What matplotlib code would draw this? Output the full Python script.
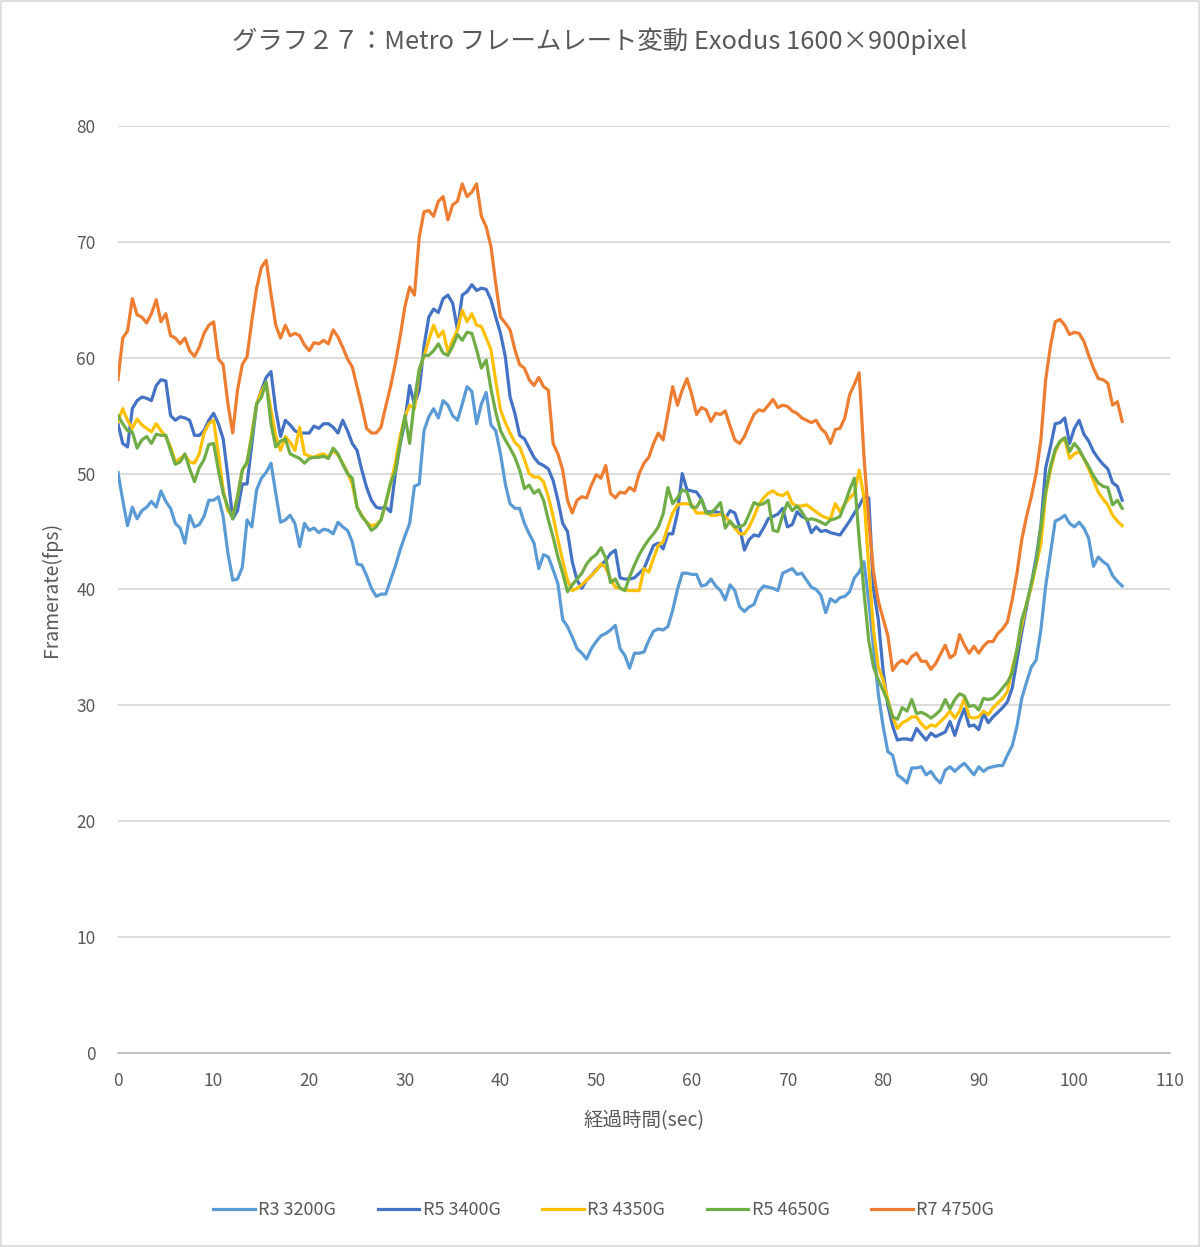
import numpy as np
import matplotlib
matplotlib.use("Agg")
import matplotlib.pyplot as plt
from matplotlib.patches import Rectangle

plt.rcParams['font.family'] = ['Noto Sans CJK JP', 'DejaVu Sans']

# 0.5秒ごとのフレームレート (fps)
r3_3200g = [
    50.1, 47.7, 45.5, 47.1, 46.1, 46.8, 47.1, 47.6, 47.1, 48.5,
    47.6, 47.0, 45.7, 45.3, 44.0, 46.4, 45.4, 45.6, 46.3, 47.7,
    47.7, 48.0, 46.3, 43.1, 40.8, 40.9, 41.9, 46.0, 45.4, 48.6,
    49.6, 50.1, 50.9, 48.3, 45.8, 46.0, 46.4, 45.7, 43.7, 45.7,
    45.1, 45.3, 44.9, 45.2, 45.1, 44.8, 45.8, 45.4, 45.1, 44.1,
    42.2, 42.1, 41.2, 40.1, 39.4, 39.6, 39.6, 40.8, 42.0, 43.4,
    44.6, 45.7, 48.9, 49.1, 53.7, 54.9, 55.6, 54.8, 56.3, 55.9,
    55.0, 54.6, 56.0, 57.5, 57.1, 54.3, 56.0, 57.0, 54.2, 53.7,
    51.7, 49.1, 47.4, 47.0, 47.0, 45.7, 44.8, 44.0, 41.8, 43.0,
    42.8, 41.7, 40.5, 37.4, 36.8, 35.9, 34.9, 34.5, 34.0, 34.9,
    35.5, 36.0, 36.2, 36.5, 36.9, 34.9, 34.3, 33.2, 34.5, 34.5,
    34.6, 35.6, 36.4, 36.6, 36.5, 36.8, 38.2, 40.0, 41.4, 41.4,
    41.3, 41.3, 40.3, 40.4, 40.9, 40.3, 39.9, 39.1, 40.4, 39.9,
    38.5, 38.1, 38.5, 38.7, 39.8, 40.3, 40.2, 40.1, 39.9, 41.4,
    41.6, 41.8, 41.3, 41.4, 40.8, 40.2, 40.0, 39.5, 38.0, 39.2,
    38.9, 39.3, 39.4, 39.8, 41.0, 41.5, 42.4, 39.0, 35.0, 31.0,
    28.2, 26.0, 25.7, 24.0, 23.7, 23.3, 24.6, 24.6, 24.7, 24.0,
    24.3, 23.7, 23.3, 24.4, 24.7, 24.3, 24.7, 25.0, 24.5, 24.0,
    24.7, 24.3, 24.6, 24.7, 24.8, 24.8, 25.7, 26.5, 28.2, 30.6,
    32.0, 33.3, 33.9, 36.5, 40.3, 43.1, 45.9, 46.1, 46.4, 45.7,
    45.4, 45.8, 45.3, 44.4, 42.0, 42.8, 42.4, 42.1, 41.2, 40.7,
    40.3,
]

r5_3400g = [
    54.3, 52.6, 52.3, 55.6, 56.3, 56.6, 56.5, 56.3, 57.6, 58.1,
    58.0, 55.0, 54.6, 54.9, 54.8, 54.6, 53.3, 53.3, 53.7, 54.6,
    55.2, 54.3, 53.0, 49.7, 46.1, 46.8, 49.1, 49.1, 52.6, 56.0,
    57.2, 58.3, 58.8, 55.5, 53.2, 54.6, 54.2, 53.7, 53.5, 53.5,
    53.5, 54.1, 53.9, 54.3, 54.3, 54.0, 53.5, 54.6, 53.7, 52.6,
    52.0, 50.3, 48.8, 47.7, 47.1, 47.0, 47.1, 46.7, 50.0, 52.5,
    54.5, 57.6, 56.0, 57.2, 61.0, 63.5, 64.2, 63.9, 65.1, 65.4,
    64.7, 62.4, 65.4, 65.7, 66.3, 65.8, 66.0, 65.9, 65.0, 63.5,
    62.1, 60.1, 56.6, 55.2, 53.3, 53.0, 52.2, 51.4, 50.9, 50.7,
    50.4, 49.4, 47.7, 45.7, 45.0, 42.4, 40.8, 40.1, 40.8, 41.2,
    41.7, 42.1, 42.5, 43.1, 43.4, 41.0, 40.9, 40.9, 41.0, 41.4,
    41.8, 42.8, 43.8, 44.0, 43.5, 44.8, 44.8, 46.6, 50.0, 48.6,
    48.5, 48.4, 47.8, 46.7, 46.7, 46.7, 46.6, 46.1, 46.8, 46.6,
    45.4, 43.4, 44.3, 44.7, 44.6, 45.3, 46.1, 46.3, 46.5, 47.0,
    45.4, 45.6, 46.7, 46.3, 46.1, 44.9, 45.4, 45.0, 45.1, 44.9,
    44.8, 44.7, 45.3, 45.9, 46.6, 47.2, 48.0, 47.9, 40.0, 37.4,
    33.0, 30.0, 28.2, 27.0, 27.1, 27.1, 27.0, 28.0, 27.5, 27.0,
    27.6, 27.3, 27.5, 27.7, 28.6, 27.4, 28.7, 29.7, 28.2, 28.3,
    27.9, 29.3, 28.5, 29.0, 29.4, 29.8, 30.3, 31.5, 33.9, 36.3,
    38.5, 40.5, 42.7, 45.5, 50.5, 52.3, 54.3, 54.4, 54.8, 52.6,
    53.9, 54.6, 53.4, 52.8, 51.9, 51.3, 50.8, 50.4, 49.2, 48.9,
    47.7,
]

r3_4350g = [
    54.5, 55.6, 54.6, 53.9, 54.7, 54.2, 53.9, 53.6, 54.3, 53.7,
    53.2, 52.3, 51.0, 51.3, 51.6, 51.0, 50.9, 51.7, 53.5, 54.3,
    54.6, 51.7, 48.6, 46.8, 46.3, 48.0, 50.3, 50.9, 53.5, 56.0,
    57.1, 57.8, 55.5, 53.2, 52.0, 53.2, 52.7, 52.0, 54.0, 51.7,
    51.5, 51.4, 51.6, 51.7, 51.4, 52.0, 51.6, 50.9, 50.1, 49.1,
    47.1, 46.4, 45.8, 45.5, 45.6, 46.0, 47.4, 49.1, 50.9, 53.2,
    54.9, 55.9, 55.6, 58.9, 60.1, 61.5, 62.8, 61.8, 62.3, 60.5,
    61.5, 62.4, 64.1, 63.1, 63.8, 62.8, 62.7, 61.7, 60.7, 58.0,
    55.5, 54.4, 53.5, 52.7, 52.3, 51.2, 50.0, 49.7, 49.7, 49.3,
    48.0, 46.3, 44.3, 42.5, 40.8, 39.9, 40.1, 40.4, 40.8, 41.2,
    41.6, 42.2, 41.9, 40.9, 40.2, 40.1, 40.0, 39.9, 39.9, 39.9,
    41.8, 41.5, 42.7, 43.8, 44.1, 45.4, 46.6, 47.3, 47.4, 47.4,
    47.3, 46.6, 46.6, 46.6, 46.4, 46.4, 46.5, 46.3, 45.8, 45.3,
    44.8, 44.8, 45.4, 46.3, 47.3, 47.9, 48.3, 48.5, 48.2, 48.1,
    48.4, 47.4, 47.2, 47.2, 47.3, 47.0, 46.7, 46.4, 46.2, 46.1,
    47.4, 46.7, 47.4, 47.9, 48.3, 50.3, 48.0, 42.0, 36.5, 33.3,
    32.2, 30.5, 29.0, 28.0, 28.5, 28.7, 29.0, 29.0, 28.4, 28.0,
    28.3, 28.2, 28.6, 29.0, 29.5, 28.9, 29.5, 30.6, 29.0, 28.9,
    29.0, 29.5, 29.2, 29.8, 30.2, 30.6, 31.2, 33.2, 34.8, 36.9,
    38.8, 40.2, 42.1, 43.9, 48.2, 50.3, 51.9, 52.7, 53.0, 51.3,
    51.7, 51.9, 51.3, 50.4, 49.4, 48.4, 47.8, 47.3, 46.4, 45.9,
    45.5,
]

r5_4650g = [
    55.0, 54.3, 53.7, 53.6, 52.2, 52.9, 53.2, 52.6, 53.4, 53.3,
    53.3, 52.0, 50.8, 51.0, 51.7, 50.4, 49.3, 50.5, 51.2, 52.5,
    52.6, 50.3, 48.3, 47.1, 46.1, 48.0, 50.3, 51.0, 53.2, 56.0,
    56.6, 57.9, 54.3, 52.3, 52.8, 53.0, 51.7, 51.5, 51.3, 50.9,
    51.3, 51.4, 51.4, 51.5, 51.3, 52.2, 51.7, 50.8, 50.0, 49.6,
    47.1, 46.3, 45.8, 45.1, 45.4, 46.0, 47.5, 49.2, 50.2, 52.6,
    55.0, 52.6, 56.3, 59.0, 60.2, 60.2, 60.6, 61.2, 60.4, 60.2,
    61.0, 62.0, 61.5, 62.2, 62.1, 60.7, 59.1, 59.8, 57.3, 55.3,
    53.7, 52.9, 52.2, 51.4, 50.3, 48.7, 49.0, 48.3, 48.6, 47.7,
    46.0, 44.5, 42.8, 41.4, 39.8, 40.4, 40.9, 41.4, 42.2, 42.7,
    43.0, 43.6, 42.7, 40.6, 40.9, 40.1, 39.9, 41.1, 42.1, 43.0,
    43.7, 44.3, 44.8, 45.4, 46.5, 48.8, 47.4, 47.9, 48.6, 48.4,
    47.1, 47.1, 47.8, 46.6, 46.6, 47.0, 47.5, 45.3, 45.9, 45.4,
    45.4, 45.6, 46.5, 47.5, 47.3, 47.4, 47.7, 45.1, 45.0, 46.4,
    47.5, 46.8, 47.2, 46.7, 46.0, 46.1, 46.0, 45.8, 45.6, 46.0,
    46.1, 46.3, 47.4, 48.6, 49.6, 44.3, 39.8, 35.6, 33.3, 32.2,
    31.3, 30.3, 29.0, 28.8, 29.8, 29.5, 30.5, 29.3, 29.4, 29.2,
    28.9, 29.2, 29.6, 30.5, 29.7, 30.5, 31.0, 30.8, 29.9, 30.0,
    29.6, 30.6, 30.5, 30.6, 31.0, 31.5, 32.0, 32.8, 34.8, 37.4,
    38.7, 40.5, 42.3, 45.4, 48.5, 50.6, 52.1, 52.8, 53.1, 51.9,
    52.6, 52.1, 51.3, 50.6, 49.8, 49.2, 48.9, 48.8, 47.3, 47.7,
    47.0,
]

r7_4750g = [
    58.1, 61.7, 62.3, 65.1, 63.7, 63.5, 63.0, 63.8, 65.0, 63.1,
    63.8, 61.9, 61.7, 61.2, 61.7, 60.6, 60.1, 60.9, 62.1, 62.8,
    63.1, 59.9, 59.4, 56.0, 53.5, 57.2, 59.4, 60.1, 63.2, 66.0,
    67.8, 68.4, 65.5, 62.8, 61.7, 62.8, 61.9, 62.1, 61.9, 61.1,
    60.6, 61.3, 61.2, 61.5, 61.2, 62.4, 61.8, 60.9, 59.9, 59.2,
    57.5, 55.8, 53.9, 53.5, 53.5, 54.0, 55.8, 57.5, 59.5, 61.8,
    64.4, 66.1, 65.4, 70.4, 72.6, 72.7, 72.2, 73.5, 73.9, 71.9,
    73.2, 73.5, 75.0, 73.9, 74.3, 75.0, 72.2, 71.3, 69.6, 66.4,
    63.5, 63.0, 62.4, 60.7, 59.4, 59.1, 58.1, 57.6, 58.3, 57.5,
    57.2, 52.6, 51.7, 50.3, 47.7, 46.6, 47.7, 48.0, 47.9, 49.0,
    49.9, 49.6, 50.7, 48.3, 47.9, 48.4, 48.3, 48.8, 48.5, 50.0,
    50.9, 51.4, 52.6, 53.5, 52.9, 55.2, 57.5, 55.9, 57.2, 58.2,
    56.8, 55.1, 55.7, 55.5, 54.5, 55.2, 55.1, 55.4, 54.1, 52.9,
    52.6, 53.2, 54.2, 55.1, 55.5, 55.4, 55.9, 56.4, 55.7, 55.9,
    55.8, 55.4, 55.2, 54.8, 54.6, 54.4, 54.6, 53.9, 53.5, 52.6,
    53.8, 53.9, 54.8, 56.8, 57.7, 58.7, 51.5, 46.0, 41.5, 39.0,
    37.5, 36.0, 33.0, 33.6, 33.9, 33.6, 34.2, 34.5, 33.8, 33.8,
    33.1, 33.6, 34.4, 35.2, 34.1, 34.4, 36.1, 35.2, 34.5, 35.1,
    34.5, 35.1, 35.5, 35.5, 36.2, 36.6, 37.2, 39.1, 41.4, 44.3,
    46.3, 48.0, 50.0, 52.9, 58.1, 61.0, 63.1, 63.3, 62.8, 62.0,
    62.2, 62.1, 61.4, 60.2, 59.1, 58.2, 58.1, 57.8, 55.9, 56.2,
    54.5,
]

series = [
    ('R3 3200G', r3_3200g, '#5B9BD5'),
    ('R5 3400G', r5_3400g, '#4472C4'),
    ('R3 4350G', r3_4350g, '#FFC000'),
    ('R5 4650G', r5_4650g, '#70AD47'),
    ('R7 4750G', r7_4750g, '#ED7D31'),
]

step = 0.5  # サンプリング間隔 (sec)
text_color = '#595959'

fig = plt.figure(figsize=(12, 12.47), dpi=100)
ax = fig.add_axes([0.0983, 0.1556, 0.8767, 0.7434])

for name, vals, col in series:
    t = np.arange(len(vals)) * step
    ax.plot(t, vals, color=col, lw=2.3, label=name, solid_joinstyle='round')

ax.set_xlim(0, 110)
ax.set_ylim(0, 80)
ax.set_xticks(range(0, 111, 10))
ax.set_yticks(range(0, 81, 10))
ax.grid(axis='y', color='#d9d9d9', lw=1.3)
ax.set_axisbelow(True)
for s in ['top', 'right', 'left']:
    ax.spines[s].set_visible(False)
ax.spines['bottom'].set_color('#bfbfbf')
ax.spines['bottom'].set_linewidth(1.3)
ax.tick_params(length=0, labelsize=12.5, labelcolor=text_color)
ax.tick_params(axis='x', pad=14)
ax.tick_params(axis='y', pad=16)

ax.set_xlabel('経過時間(sec)', fontsize=14, color=text_color, labelpad=14)
ax.set_ylabel('Framerate(fps)', fontsize=14, color=text_color, labelpad=10)
fig.text(0.5, 0.967, 'グラフ２７：Metro フレームレート変動 Exodus 1600×900pixel',
         ha='center', va='center', fontsize=18.3, color=text_color)

fig.legend(loc='center', bbox_to_anchor=(0.503, 1 - 1210 / 1247), ncol=5,
           frameon=False, fontsize=13, handlelength=2.3, handletextpad=0.2,
           columnspacing=2.3, labelcolor=text_color)

fig.patches.append(Rectangle((0.001, 0.001), 0.998, 0.998, transform=fig.transFigure,
                             fill=False, edgecolor='#d9d9d9', lw=1.2))

fig.savefig('out.png', dpi=100, facecolor='white')
